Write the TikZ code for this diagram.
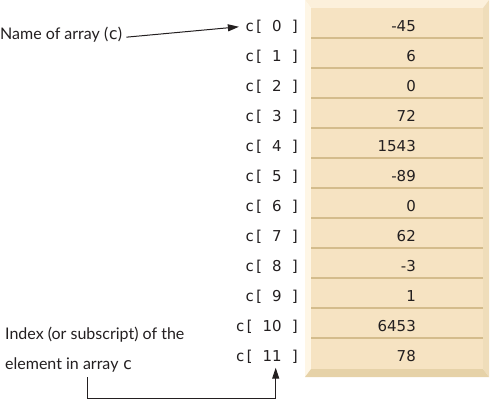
\documentclass[tikz,border=0pt]{standalone}
\usepackage{fontspec}
\setmainfont{Lato}
\newfontfamily\monof{DejaVu Sans Mono}
\newfontfamily\digf{DejaVu Sans}
\usetikzlibrary{arrows.meta}
\definecolor{face}{RGB}{246,227,194}
\definecolor{bevtop}{RGB}{252,240,219}
\definecolor{bevleft}{RGB}{254,246,230}
\definecolor{bevright}{RGB}{239,221,186}
\definecolor{bevbot}{RGB}{230,210,168}
\definecolor{rowline}{RGB}{212,188,140}
\definecolor{ink}{RGB}{35,31,32}
\tikzset{
  idx/.style={font=\monof\fontsize{15}{18}\selectfont, text=ink, inner sep=0pt, anchor=base east},
  val/.style={font=\digf\fontsize{15}{18}\selectfont, text=ink, inner sep=0pt, anchor=base east},
  lbl/.style={font=\fontsize{16}{30}\selectfont, text=ink, inner sep=0pt, align=left},
  conn/.style={draw=ink, line width=1pt, -{Triangle[length=11pt,width=7pt]}},
}
\begin{document}
\begin{tikzpicture}[x=1pt,y=-1pt]
\useasboundingbox (0,0) rectangle (490,400);
% beveled box
\fill[bevtop] (305,0) -- (489,0) -- (483,8) -- (311,8) -- cycle;
\fill[bevleft] (305,0) -- (311,8) -- (311,369) -- (305,377) -- cycle;
\fill[bevright] (489,0) -- (489,377) -- (483,369) -- (483,8) -- cycle;
\fill[bevbot] (305,377) -- (489,377) -- (483,369) -- (311,369) -- cycle;
\fill[face] (311,8) rectangle (483,369);
\foreach \k in {1,...,11} {
  \draw[rowline, line width=1.2pt] (311,{8+30*\k}) -- (483,{8+30*\k});
}
% index labels and values
\foreach \v [count=\i from 0] in {-45,6,0,72,1543,-89,0,62,-3,1,6453,78} {
  \node[idx] (idx\i) at (300,{31.5+30*\i}) {c[ {\digf\i} ]};
  \node[val] (val\i) at (416,{31.5+30*\i}) {\v};
}
% annotations
\node[lbl, anchor=base west] (name) at (0,39) {Name of array ({\monof c})};
\node[lbl, anchor=north west] (index) at (5,327) {Index (or subscript) of the\\element in array {\monof c}};
\draw[conn] ([xshift=4pt,yshift=-3pt]name.east) -- ([xshift=-6pt]idx0.west);
\coordinate (s) at ([xshift=82pt]index.south west);
\draw[conn] (s |- 0,377) -- (s |- 0,398) -| ([xshift=8pt,yshift=-4pt]idx11.south);
\end{tikzpicture}
\end{document}
